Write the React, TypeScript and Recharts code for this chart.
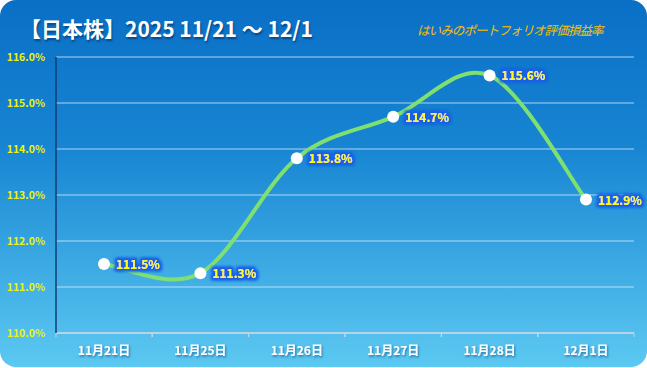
import React from "react";
import { LineChart, Line, XAxis, YAxis, CartesianGrid, LabelList } from "recharts";

const dates = ["11月21日", "11月25日", "11月26日", "11月27日", "11月28日", "12月1日"];
const rates = [111.5, 111.3, 113.8, 114.7, 115.6, 112.9];
const yTicks = [110, 111, 112, 113, 114, 115, 116];

const data = dates.map((d, i) => ({ date: d, rate: rates[i] }));

// Excel-like smoothed line (Catmull-Rom through every point)
function smoothCurve(context: any) {
  let pts: number[][] = [];
  return {
    areaStart() {},
    areaEnd() {},
    lineStart() {
      pts = [];
    },
    point(x: number, y: number) {
      pts.push([+x, +y]);
    },
    lineEnd() {
      if (!pts.length) return;
      context.moveTo(pts[0][0], pts[0][1]);
      for (let i = 0; i < pts.length - 1; i++) {
        const p0 = pts[i - 1] || pts[i];
        const p1 = pts[i];
        const p2 = pts[i + 1];
        const p3 = pts[i + 2] || pts[i + 1];
        context.bezierCurveTo(
          p1[0] + (p2[0] - p0[0]) / 6,
          p1[1] + (p2[1] - p0[1]) / 6,
          p2[0] - (p3[0] - p1[0]) / 6,
          p2[1] - (p3[1] - p1[1]) / 6,
          p2[0],
          p2[1]
        );
      }
    },
  };
}

const HALF_BAND = 48;

const XTick = (props: any) => {
  const { x, y, payload } = props;
  return (
    <g>
      <line x1={x - HALF_BAND} y1={y - 8} x2={x - HALF_BAND} y2={y - 4} stroke="#c8d4e0" />
      <line x1={x + HALF_BAND} y1={y - 8} x2={x + HALF_BAND} y2={y - 4} stroke="#c8d4e0" />
      <text x={x} y={y + 14} textAnchor="middle" fill="#ffffff" fontSize={12} fontWeight={700} filter="url(#shadow)">
        {payload.value}
      </text>
    </g>
  );
};

const RateLabel = (props: any) => {
  const { x, y, value } = props;
  return (
    <text x={x + 12} y={y + 5} fill="#ffff00" fontSize={12} fontWeight={700} filter="url(#glow)">
      {value.toFixed(1)}%
    </text>
  );
};

export default function App() {
  return (
    <div
      style={{
        position: "absolute",
        left: 0,
        top: 0,
        width: 647,
        height: 367,
        borderRadius: 16,
        background: "linear-gradient(180deg, #0a6fc6 0%, #1785d2 40%, #5cc9f2 100%)",
        fontFamily: "'Noto Sans CJK JP', 'Noto Sans', sans-serif",
        overflow: "hidden",
      }}
    >
      <div
        style={{
          position: "absolute",
          left: 20,
          top: 13,
          color: "#ffffff",
          fontSize: 21,
          fontWeight: 700,
          textShadow: "1px 2px 2px rgba(0,40,90,0.6)",
        }}
      >
        【日本株】2025 11/21 〜 12/1
      </div>
      <div
        style={{
          position: "absolute",
          left: 417,
          top: 20,
          color: "#f7c000",
          fontSize: 12.5,
          fontStyle: "italic",
          letterSpacing: -0.9,
        }}
      >
        はいみのポートフォリオ評価損益率
      </div>
      <LineChart width={647} height={367} data={data} margin={{ top: 57, right: 13, bottom: 4, left: 0 }}>
        <defs>
          <filter id="glow" x="-20%" y="-60%" width="140%" height="220%">
            <feMorphology in="SourceAlpha" operator="dilate" radius="2" result="d" />
            <feGaussianBlur in="d" stdDeviation="1.6" result="b" />
            <feFlood floodColor="#1c5fe6" />
            <feComposite in2="b" operator="in" result="g" />
            <feMerge>
              <feMergeNode in="g" />
              <feMergeNode in="g" />
              <feMergeNode in="SourceGraphic" />
            </feMerge>
          </filter>
          <filter id="shadow" x="-20%" y="-50%" width="140%" height="200%">
            <feDropShadow dx="1" dy="1.5" stdDeviation="0.8" floodColor="#003a70" floodOpacity="0.6" />
          </filter>
        </defs>
        <CartesianGrid vertical={false} stroke="rgba(225,240,255,0.75)" strokeWidth={1.2} />
        <XAxis
          dataKey="date"
          height={30}
          padding={{ left: HALF_BAND, right: HALF_BAND }}
          axisLine={{ stroke: "#c8d4e0", strokeWidth: 1.5 }}
          tickLine={false}
          tick={<XTick />}
          interval={0}
        />
        <XAxis
          xAxisId="top"
          orientation="top"
          dataKey="date"
          height={0}
          padding={{ left: HALF_BAND, right: HALF_BAND }}
          tick={false}
          tickLine={false}
          axisLine={{ stroke: "#0c3e74" }}
        />
        <YAxis
          domain={[110, 116]}
          ticks={yTicks}
          width={56}
          tickLine={false}
          tickSize={6}
          tickMargin={5}
          axisLine={{ stroke: "#0c3e74", strokeWidth: 1.5 }}
          tick={{ fill: "#eaf500", fontSize: 10.5, fontWeight: 700 }}
          tickFormatter={(v: number) => `${v.toFixed(1)}%`}
        />
        <YAxis
          yAxisId="right"
          orientation="right"
          domain={[110, 116]}
          width={0}
          tick={false}
          tickLine={false}
          axisLine={{ stroke: "#0c3e74", strokeWidth: 1.5 }}
        />
        <Line
          dataKey="rate"
          type={smoothCurve as any}
          stroke="#7fe070"
          strokeWidth={4}
          dot={{ r: 6, fill: "#ffffff", stroke: "none" }}
          isAnimationActive={false}
        >
          <LabelList dataKey="rate" content={<RateLabel />} />
        </Line>
      </LineChart>
    </div>
  );
}
